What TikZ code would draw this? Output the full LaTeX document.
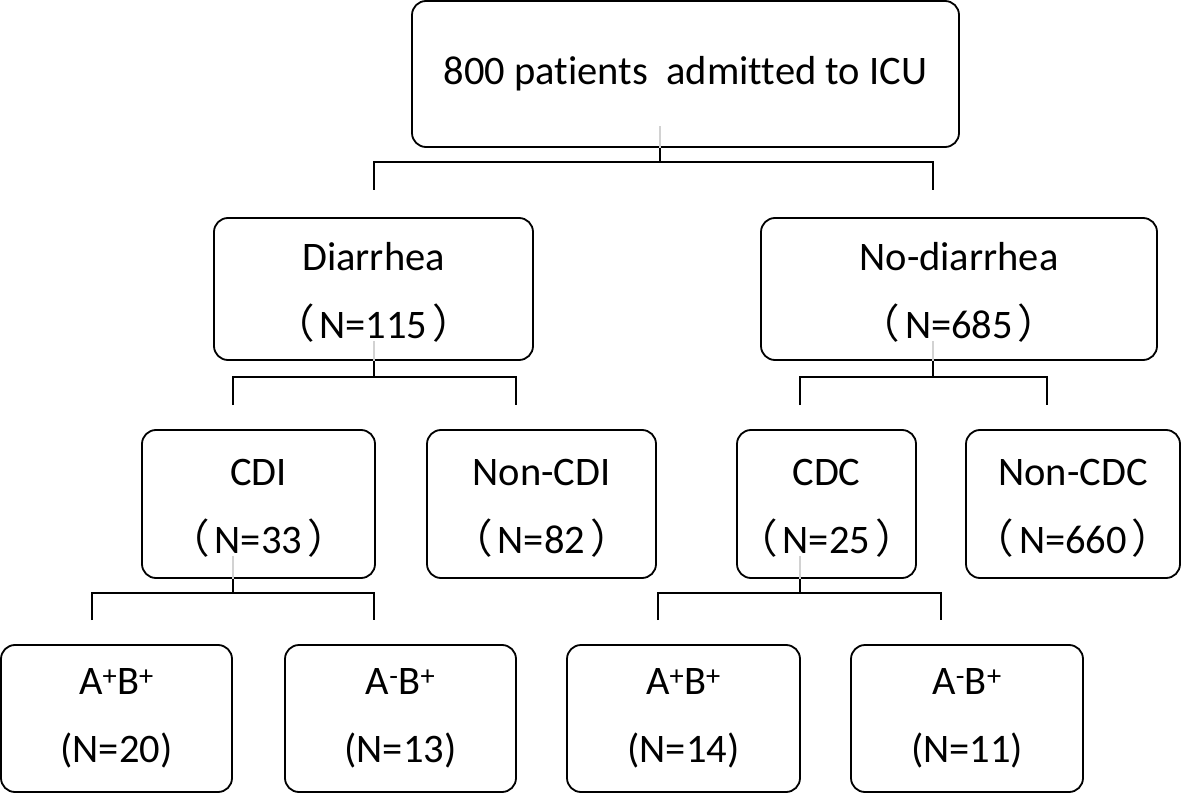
\documentclass[tikz,border=0pt]{standalone}
\usepackage{fontspec}
\setmainfont[Ligatures=NoCommon]{Carlito}
\newfontfamily\cjk{Noto Sans CJK SC}
\newcommand{\lp}{{\cjk （}\kern5pt}
\newcommand{\rp}{\kern5pt{\cjk ）}}
\begin{document}
\begin{tikzpicture}[x=1pt,y=-1pt,
  box/.style={draw, line width=1.8pt, rounded corners=14pt, inner sep=0pt, align=center,
    font=\fontsize{40.5}{68}\selectfont},
  conn/.style={line width=1.8pt},
  faint/.style={line width=1.2pt, draw=gray!35}]
\useasboundingbox (0,0) rectangle (1181,794);
% level 1
\node[box, minimum width=547pt, minimum height=146pt] (top) at (685.5,74) {800 patients\ \ admitted to ICU};
% level 2
\node[box, minimum width=319pt, minimum height=142pt] (dia) at (373.5,289) {\rule{0pt}{34pt}Diarrhea\\\lp N=115\rp};
\node[box, minimum width=396pt, minimum height=142pt] (nodia) at (959,289) {\rule{0pt}{34pt}No-diarrhea\\\lp N=685\rp};
% level 3
\node[box, minimum width=233pt, minimum height=148pt] (cdi) at (258.5,504) {\rule{0pt}{34pt}CDI\\\lp N=33\rp};
\node[box, minimum width=229pt, minimum height=148pt] (noncdi) at (541.5,504) {\rule{0pt}{34pt}Non-CDI\\\lp N=82\rp};
\node[box, minimum width=179pt, minimum height=148pt] (cdc) at (826.5,504) {\rule{0pt}{34pt}CDC\\\lp N=25\rp};
\node[box, minimum width=214pt, minimum height=148pt] (noncdc) at (1073,504) {\rule{0pt}{34pt}Non-CDC\\\lp N=660\rp};
% level 4
\node[box, minimum width=231pt, minimum height=147pt] (cdiab) at (116.5,718.5) {A\textsuperscript{+}B\textsuperscript{+}\\(N=20)};
\node[box, minimum width=231pt, minimum height=147pt] (cdib) at (400.5,718.5) {A\textsuperscript{-}B\textsuperscript{+}\\(N=13)};
\node[box, minimum width=233pt, minimum height=147pt] (cdcab) at (683.5,718.5) {A\textsuperscript{+}B\textsuperscript{+}\\(N=14)};
\node[box, minimum width=232pt, minimum height=147pt] (cdcb) at (967,718.5) {A\textsuperscript{-}B\textsuperscript{+}\\(N=11)};
% junction coordinates
\coordinate (j1) at (660,162);
\coordinate (j1a) at (374,190);
\coordinate (j1b) at (933,190);
\coordinate (j2) at (374,377);
\coordinate (j2a) at (233,405);
\coordinate (j2b) at (516,405);
\coordinate (j3) at (933,377);
\coordinate (j3a) at (800,405);
\coordinate (j3b) at (1047,405);
\coordinate (j4) at (233,593);
\coordinate (j4a) at (92,620);
\coordinate (j4b) at (374,620);
\coordinate (j5) at (800,593);
\coordinate (j5a) at (658,620);
\coordinate (j5b) at (941,620);
% faint lines inside boxes
\draw[faint] (top.south -| j1) -- ++(0,-22);
\draw[faint] (dia.south -| j2) -- ++(0,-20);
\draw[faint] (nodia.south -| j3) -- ++(0,-20);
\draw[faint] (cdi.south -| j4) -- ++(0,-23);
\draw[faint] (cdc.south -| j5) -- ++(0,-23);
% connectors
\draw[conn] (top.south -| j1) -- (j1);
\draw[conn] (j1a) |- (j1) -| (j1b);
\draw[conn] (dia.south -| j2) -- (j2);
\draw[conn] (j2a) |- (j2) -| (j2b);
\draw[conn] (nodia.south -| j3) -- (j3);
\draw[conn] (j3a) |- (j3) -| (j3b);
\draw[conn] (cdi.south -| j4) -- (j4);
\draw[conn] (j4a) |- (j4) -| (j4b);
\draw[conn] (cdc.south -| j5) -- (j5);
\draw[conn] (j5a) |- (j5) -| (j5b);
\end{tikzpicture}
\end{document}
